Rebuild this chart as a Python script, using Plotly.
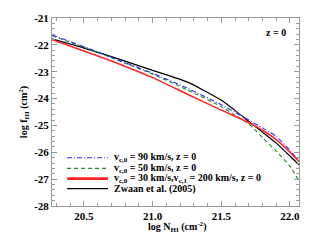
import plotly.graph_objects as go

# ---- data ----
log_N = [20.267, 20.5, 20.75, 21.0, 21.25, 21.5, 21.6, 21.7, 21.8, 21.9, 22.0, 22.066]

f_v90 = [-21.63, -22.07, -22.56, -23.06, -23.61, -24.23, -24.51, -24.80, -25.09, -25.41, -25.93, -26.32]
f_v50 = [-21.66, -22.09, -22.58, -23.09, -23.67, -24.30, -24.62, -24.94, -25.45, -25.96, -26.52, -27.07]
f_v30 = [-21.81, -22.23, -22.70, -23.22, -23.83, -24.43, -24.66, -24.90, -25.18, -25.53, -26.00, -26.34]
f_zwaan = [-21.78, -22.12, -22.52, -22.95, -23.38, -24.06, -24.44, -24.85, -25.25, -25.66, -26.14, -26.47]

series_names = [
    "v<sub>c,0</sub> = 90 km/s, z = 0",
    "v<sub>c,0</sub> = 50 km/s, z = 0",
    "v<sub>c,0</sub> = 30 km/s,v<sub>c,1</sub> = 200 km/s, z = 0",
    "Zwaan et al. (2005)",
]
series_colors = ["#2a2aff", "#1e8c1e", "#ff2626", "#000000"]
series_dash = ["5px,2px,1px,2px", "4px,3px", "solid", "solid"]
series_width = [1.1, 1.1, 1.6, 1.2]

x_range = [20.267, 22.066]
y_range = [-28, -21]
x_tickvals = [20.5, 21.0, 21.5, 22.0]
x_ticktext = ["20.5", "21.0", "21.5", "22.0"]
y_tickvals = [-28, -27, -26, -25, -24, -23, -22, -21]
y_ticktext = ["-28", "-27", "-26", "-25", "-24", "-23", "-22", "-21"]

FONT = "Liberation Serif"

fig = go.Figure()
all_y = [f_v90, f_v50, f_v30, f_zwaan]
order = [3, 1, 0, 2]  # draw black first, red on top
for i in order:
    fig.add_trace(go.Scatter(
        x=log_N, y=all_y[i], mode="lines", name=series_names[i],
        line=dict(color=series_colors[i], dash=series_dash[i],
                  width=series_width[i], shape="spline", smoothing=0.6),
        showlegend=False,
    ))

# manual compact legend (bottom-left)
leg_y = [0.257, 0.200, 0.146, 0.092]
for i in range(4):
    fig.add_shape(type="line", xref="paper", yref="paper",
                  x0=0.061, x1=0.227, y0=leg_y[i], y1=leg_y[i],
                  line=dict(color=series_colors[i], dash=series_dash[i],
                            width=series_width[i] + (1.2 if i == 2 else 0)))
    fig.add_annotation(xref="paper", yref="paper", x=0.243, y=leg_y[i],
                       text="<b>" + series_names[i] + "</b>", showarrow=False,
                       xanchor="left", yanchor="middle",
                       font=dict(family=FONT, size=10, color="black"))

fig.add_annotation(xref="paper", yref="paper", x=0.906, y=0.925,
                   text="<b>z = 0</b>", showarrow=False,
                   xanchor="center", yanchor="middle",
                   font=dict(family=FONT, size=10, color="black"))

# x-axis title placed as an annotation to match the reference position
fig.add_annotation(xref="paper", yref="paper", x=0.506, y=-0.11,
                   text="<b>log N<sub>HI</sub> (cm<sup>-2</sup>)</b>", showarrow=False,
                   xanchor="center", yanchor="middle",
                   font=dict(family=FONT, size=10, color="black"))

axis_common = dict(
    showline=True, linecolor="#9a9a9a", linewidth=1, mirror="ticks",
    ticks="inside", ticklen=5, tickcolor="#9a9a9a", tickwidth=1,
    showgrid=False, zeroline=False,
    tickfont=dict(family=FONT, size=11, color="black", weight="bold"),
)

fig.update_xaxes(
    range=x_range, tickvals=x_tickvals, ticktext=x_ticktext,
    minor=dict(dtick=0.1, tick0=20.0, ticks="inside", ticklen=3, tickcolor="#9a9a9a"),
    **axis_common,
)
fig.update_yaxes(
    range=y_range, tickvals=y_tickvals, ticktext=y_ticktext,
    minor=dict(dtick=0.2, ticks="inside", ticklen=3, tickcolor="#9a9a9a"),
    title=dict(text="<b>log f<sub>HI</sub> (cm<sup>2</sup>)</b>",
               font=dict(family=FONT, size=10, color="black"), standoff=4),
    **axis_common,
)

fig.update_layout(
    width=315, height=240,
    margin=dict(l=52, r=16, t=15, b=34),
    paper_bgcolor="white", plot_bgcolor="white",
    showlegend=False,
)

# remove the default 8px body margin so the figure sits at the page origin
fig.write_html("out.html", config={"displayModeBar": False},
               post_script="document.body.style.margin='0';")
